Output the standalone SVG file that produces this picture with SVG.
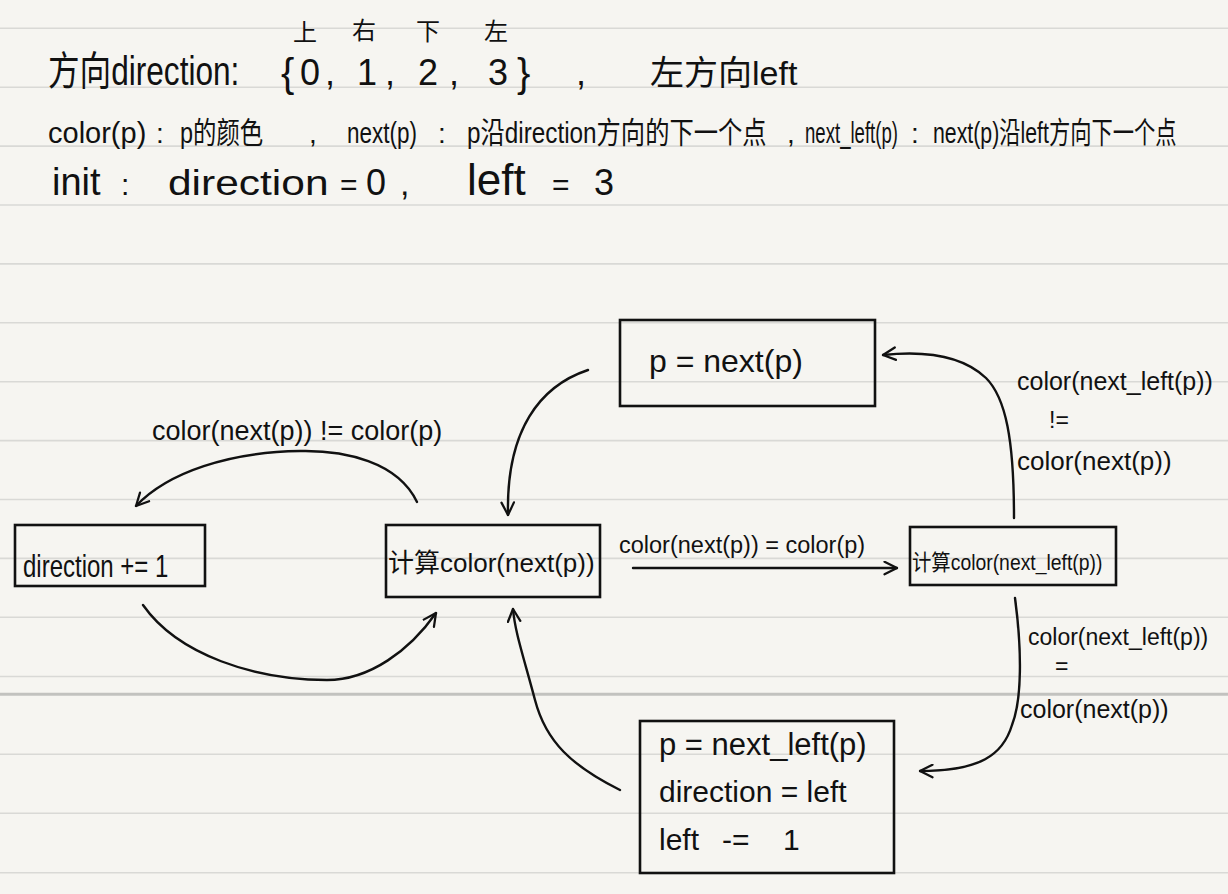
<svg xmlns="http://www.w3.org/2000/svg" width="1228" height="894" viewBox="0 0 1228 894">
<style>
.rule{stroke:#d9d9d6;stroke-width:1.6}
.box{fill:none;stroke:#111;stroke-width:2.6}
.t{font-family:"Liberation Sans","Noto Sans CJK SC",sans-serif;fill:#111}
.edge{fill:none;stroke:#111;stroke-width:2.4;stroke-linecap:round}
</style>
<defs>
<marker id="arr" viewBox="0 0 12 12" refX="11" refY="6" markerWidth="15" markerHeight="15" markerUnits="userSpaceOnUse" orient="auto">
<path d="M1,1 L11,6 L1,11" fill="none" stroke="#111" stroke-width="1.8" stroke-linecap="round" stroke-linejoin="round"/>
</marker>
</defs>
<rect width="1228" height="894" fill="#f6f5f1"/>
<g id="rules">
<line class="rule" x1="0" y1="28.3" x2="1228" y2="28.3"/>
<line class="rule" x1="0" y1="87.2" x2="1228" y2="87.2"/>
<line class="rule" x1="0" y1="146.1" x2="1228" y2="146.1"/>
<line class="rule" x1="0" y1="205" x2="1228" y2="205"/>
<line class="rule" x1="0" y1="263.9" x2="1228" y2="263.9"/>
<line class="rule" x1="0" y1="322.8" x2="1228" y2="322.8"/>
<line class="rule" x1="0" y1="381.7" x2="1228" y2="381.7"/>
<line class="rule" x1="0" y1="440.6" x2="1228" y2="440.6"/>
<line class="rule" x1="0" y1="499.5" x2="1228" y2="499.5"/>
<line class="rule" x1="0" y1="558.4" x2="1228" y2="558.4"/>
<line class="rule" x1="0" y1="617.3" x2="1228" y2="617.3"/>
<line class="rule" x1="0" y1="676.5" x2="1228" y2="676.5"/>
<line x1="0" y1="694.3" x2="1228" y2="694.3" stroke="#c2c2bf" stroke-width="3"/>
<line class="rule" x1="0" y1="754.3" x2="1228" y2="754.3"/>
<line class="rule" x1="0" y1="813.3" x2="1228" y2="813.3"/>
<line class="rule" x1="0" y1="872.7" x2="1228" y2="872.7"/>
</g>
<g id="header">
<text class="t" transform="matrix(0.79 0 0 1 48 85)" font-size="40">方向direction:</text>
<text class="t" x="281" y="87" font-size="40">{</text>
<text class="t" x="300" y="85" font-size="36">0</text>
<text class="t" x="325" y="85" font-size="36">,</text>
<text class="t" x="357" y="85" font-size="36">1</text>
<text class="t" x="385" y="85" font-size="36">,</text>
<text class="t" x="418" y="85" font-size="36">2</text>
<text class="t" x="449" y="85" font-size="36">,</text>
<text class="t" x="488" y="85" font-size="36">3</text>
<text class="t" x="517" y="87" font-size="40">}</text>
<text class="t" x="576" y="85" font-size="36">,</text>
<text class="t" x="650" y="85" font-size="34">左方向left</text>
<text class="t" x="293" y="41" font-size="24">上</text>
<text class="t" x="352" y="39" font-size="24">右</text>
<text class="t" x="416" y="40" font-size="24">下</text>
<text class="t" x="484" y="40" font-size="24">左</text>
<text class="t" x="48" y="143" font-size="29">color(p)</text>
<text class="t" x="156" y="143" font-size="28">:</text>
<text class="t" transform="matrix(0.78 0 0 1 180 143)" font-size="30">p的颜色</text>
<text class="t" x="309" y="143" font-size="28">,</text>
<text class="t" transform="matrix(0.75 0 0 1 347 143)" font-size="30">next(p)</text>
<text class="t" x="438" y="143" font-size="28">:</text>
<text class="t" transform="matrix(0.81 0 0 1 467 143)" font-size="30">p沿direction方向的下一个点</text>
<text class="t" x="787" y="143" font-size="28">,</text>
<text class="t" transform="matrix(0.62 0 0 1 805 143)" font-size="30">next_left(p)</text>
<text class="t" x="911" y="143" font-size="28">:</text>
<text class="t" transform="matrix(0.71 0 0 1 933 143)" font-size="30">next(p)沿left方向下一个点</text>
<text class="t" x="52" y="195" font-size="38">init</text>
<text class="t" x="121" y="195" font-size="30">:</text>
<text class="t" transform="matrix(1.18 0 0 1 168 195)" font-size="36">direction</text>
<text class="t" x="340" y="195" font-size="30">=</text>
<text class="t" x="366" y="195" font-size="36">0</text>
<text class="t" x="400" y="195" font-size="34">,</text>
<text class="t" x="467" y="195" font-size="44">left</text>
<text class="t" x="552" y="195" font-size="30">=</text>
<text class="t" x="594" y="195" font-size="36">3</text>
</g>
<g id="node-next">
<rect class="box" x="620" y="320" width="255" height="86"/>
<text class="t" x="649" y="372" font-size="32">p = next(p)</text>
</g>
<g id="node-direction">
<rect class="box" x="15" y="525" width="190" height="61"/>
<text class="t" transform="matrix(0.75 0 0 1 23 577)" font-size="32">direction += 1</text>
</g>
<g id="node-calc-next">
<rect class="box" x="386" y="525" width="214" height="72"/>
<text class="t" x="388" y="572" font-size="26">计算color(next(p))</text>
</g>
<g id="node-calc-left">
<rect class="box" x="910" y="527" width="206" height="58"/>
<text class="t" transform="matrix(0.88 0 0 1 912 570)" font-size="22">计算color(next_left(p))</text>
</g>
<g id="node-turn">
<rect class="box" x="640" y="721" width="254" height="152"/>
<text class="t" x="659" y="755" font-size="31">p = next_left(p)</text>
<text class="t" x="659" y="802" font-size="30">direction = left</text>
<text class="t" y="850" font-size="30"><tspan x="659">left</tspan><tspan x="722">-=</tspan><tspan x="783">1</tspan></text>
</g>
<g id="connectors">
<path class="edge" marker-end="url(#arr)" d="M588,370 C540,386 506,430 508,515"/>
<path class="edge" marker-end="url(#arr)" d="M417,502 C398,462 345,450 300,451 C230,452 168,472 136,506"/>
<path class="edge" marker-end="url(#arr)" d="M143,605 C178,655 255,680 327,680 C370,680 410,650 436,613"/>
<path class="edge" marker-end="url(#arr)" d="M620,790 C572,766 546,742 535,700 C523,655 515,632 513,609"/>
<path class="edge" marker-end="url(#arr)" d="M633,568 L897,568"/>
<path class="edge" marker-end="url(#arr)" d="M1014,518 C1014,440 1006,398 986,378 C965,358 930,350 883,355"/>
<path class="edge" marker-end="url(#arr)" d="M1015,598 C1022,650 1022,700 1012,725 C1003,755 980,771 920,771"/>
</g>
<g id="edge-labels">
<text class="t" x="152" y="440" font-size="27">color(next(p)) != color(p)</text>
<text class="t" x="619" y="553" font-size="23.5">color(next(p)) = color(p)</text>
<text class="t" x="1017" y="390" font-size="25">color(next_left(p))</text>
<text class="t" x="1049" y="428" font-size="23">!=</text>
<text class="t" x="1017" y="470" font-size="26">color(next(p))</text>
<text class="t" x="1028" y="645" font-size="23">color(next_left(p))</text>
<text class="t" x="1055" y="674" font-size="23">=</text>
<text class="t" x="1020" y="718" font-size="25">color(next(p))</text>
</g>
</svg>
